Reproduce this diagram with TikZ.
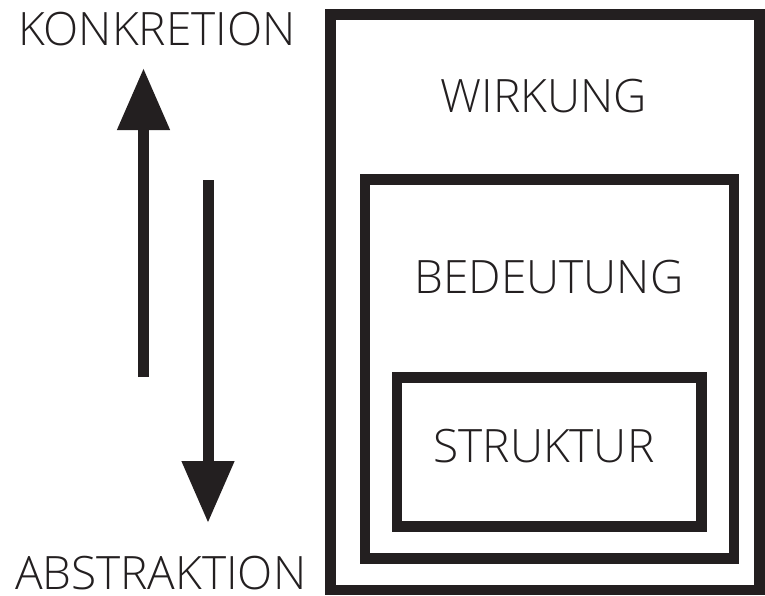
\documentclass[tikz,border=0pt]{standalone}
\usepackage{fontspec}
\IfFontExistsTF{Open Sans Light}{\setmainfont{Open Sans Light}}{\setmainfont{Open Sans}}
\usetikzlibrary{arrows.meta}
\definecolor{ink}{HTML}{231F20}
\tikzset{
  frame/.style={draw=ink, line width=10.5pt, minimum width=#1, inner sep=0pt, outer sep=0pt},
  lbl/.style={text=ink, inner sep=0pt, outer sep=0pt, text depth=0pt, font=\fontsize{46}{50}\selectfont},
  bigarrow/.style={draw=ink, line width=11pt, -{Triangle[length=62pt,width=50pt]}}
}
\begin{document}
\begin{tikzpicture}[x=1pt,y=-1pt]
\useasboundingbox (0,0) rectangle (765,595);
% boxes
\node[frame=429pt, minimum height=575.7pt] (outer) at (545,302.2) {};
\node[frame=368.7pt, minimum height=378.8pt] (middle) at (549.4,368.9) {};
\node[frame=304.3pt, minimum height=148.8pt] (inner) at (549.2,451.9) {};
% labels
\node[lbl, anchor=base] (wirkung) at (544,112.3) {WIRKUNG};
\node[lbl, anchor=base] (bedeutung) at (549,293.3) {BEDEUTUNG};
\node[lbl, anchor=base] (struktur) at (544,462.3) {STRUKTUR};
\node[lbl, anchor=base west] (konkretion) at (18,45.7) {KONKRETION};
\node[lbl, anchor=base west] (abstraktion) at (15,589.5) {ABSTRAKTION};
% arrows
\coordinate (upS) at (143.5,377);
\coordinate (upE) at (143.5,68);
\coordinate (dnS) at (208,180);
\coordinate (dnE) at (208,523);
\draw[bigarrow] (upS) -- (upE);
\draw[bigarrow] (dnS) -- (dnE);
\end{tikzpicture}
\end{document}
